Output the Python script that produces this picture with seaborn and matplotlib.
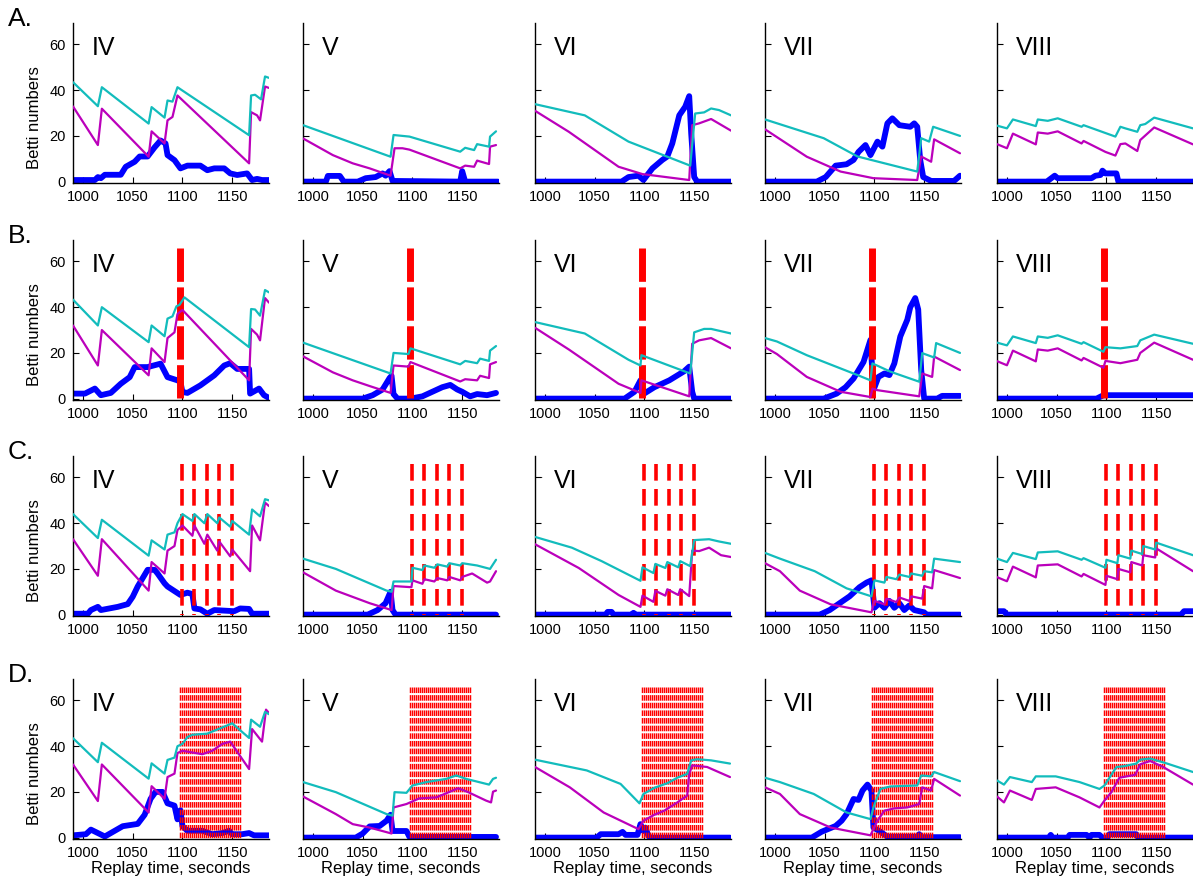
import numpy as np
import pandas as pd
import matplotlib
matplotlib.use("Agg")
import matplotlib.pyplot as plt
import seaborn as sns

sns.set_theme(style="white")
plt.rcParams['font.family'] = ['Liberation Sans', 'DejaVu Sans']
plt.rcParams['lines.scale_dashes'] = False
plt.rcParams['text.color'] = 'black'
plt.rcParams['axes.labelcolor'] = 'black'
plt.rcParams['xtick.color'] = 'black'
plt.rcParams['ytick.color'] = 'black'

# ---------------- data: (time, value) breakpoints ----------------
# Row A
A_IV_c = [(990,43.5),(1015,33),(1019,41.3),(1066,25.4),(1069,32.6),(1082,28),(1085,35.5),(1090,35),(1095,41.3),(1167,20.3),(1169,37.7),(1173,38),(1179,36),(1183,46),(1187,45.4)]
A_IV_m = [(990,32.9),(1015,16),(1019,31.9),(1066,10.9),(1069,22),(1082,16.7),(1085,26.8),(1090,28.3),(1095,37.7),(1167,8),(1169,30.4),(1175,29),(1178,26.8),(1183,41.6),(1187,41)]
A_IV_b = [(990,0.7),(1012,0.7),(1015,2),(1018,1.5),(1022,3),(1038,3),(1043,6.5),(1052,8.7),(1057,11),(1065,11),(1072,15),(1078,18),(1083,16.7),(1085,11.6),(1092,9.4),(1098,5.8),(1105,7),(1118,7),(1125,5),(1132,5.8),(1142,5.8),(1148,3.6),(1155,2.9),(1165,3.6),(1170,0.7),(1175,1.2),(1180,0.7),(1187,0.7)]

A_V_c = [(990,24.7),(1078,10.9),(1081,20.4),(1097,19.7),(1148,13.1),(1153,14.8),(1162,13.8),(1165,16.4),(1177,15.3),(1178,19.7),(1184,22)]
A_V_m = [(990,18.9),(1020,11.6),(1040,8),(1057,5.8),(1078,2.6),(1082,14.6),(1090,14.6),(1097,14),(1148,5.8),(1153,7),(1162,6.5),(1165,9.2),(1177,7.7),(1178,15.3),(1184,16)]
A_V_b = [(990,0),(1013,0),(1015,2.5),(1027,2.5),(1031,0),(1045,0),(1053,1.5),(1063,2),(1070,3.6),(1073,2.6),(1077,4.6),(1080,0.3),(1148,0),(1150,4.6),(1153,0),(1186,0)]

A_VI_c = [(990,33.9),(1040,29),(1084,17.5),(1146,7),(1151,29.8),(1160,30.3),(1167,32),(1175,31.3),(1187,29)]
A_VI_m = [(990,31),(1024,21.8),(1074,6.5),(1098,3.3),(1145,0.7),(1148,24.7),(1155,25.5),(1167,27.4),(1187,22.3)]
A_VI_b = [(990,0),(1077,0),(1084,2),(1094,2.6),(1099,0.7),(1108,5.8),(1118,9.5),(1123,11),(1128,16.7),(1135,29),(1141,32.8),(1145,37.4),(1147,21),(1150,2),(1153,0),(1187,0)]

A_VII_c = [(990,27.2),(1049,19),(1083,11),(1143,4.4),(1147,19),(1155,17.5),(1159,24),(1186,20)]
A_VII_m = [(990,22.9),(1032,10.9),(1066,4.4),(1099,1.5),(1143,0.7),(1147,11),(1157,8.7),(1160,18.5),(1186,12.4)]
A_VII_b = [(990,0),(1042,0),(1051,2),(1061,7),(1072,7.6),(1079,9.5),(1084,13),(1091,16),(1096,11.6),(1103,17.5),(1108,15.3),(1113,25.5),(1118,27.7),(1125,24.7),(1136,24),(1140,25.5),(1143,24),(1146,9.5),(1149,2),(1157,0.3),(1180,0.3),(1186,2.6)]

A_VIII_c = [(990,24.5),(1000,23.3),(1006,27.2),(1029,24.3),(1031,27.2),(1041,26.6),(1051,27.7),(1075,24),(1077,24.7),(1109,19.7),(1114,24),(1119,23.3),(1131,21.8),(1134,24.7),(1139,25.2),(1148,28),(1187,23.3)]
A_VIII_m = [(990,16.4),(1000,14.6),(1006,21),(1029,16.3),(1031,21.5),(1041,21),(1051,22),(1075,16.7),(1077,17.8),(1099,13),(1109,11.4),(1114,16.4),(1119,16.7),(1131,13.4),(1134,18.2),(1148,23.7),(1187,16.3)]
A_VIII_b = [(990,0),(1040,0),(1048,2.6),(1051,1.5),(1085,1.5),(1089,2.6),(1094,2.9),(1096,4.8),(1099,3.6),(1110,3.6),(1112,0),(1187,0)]

# Row B
B_IV_c = [(990,43.3),(1015,32),(1019,40),(1066,24.7),(1069,32),(1082,27.3),(1085,35),(1090,36),(1094,40.4),(1097,41),(1102,44.3),(1167,22.5),(1169,39.2),(1173,39),(1178,36.3),(1183,47.5),(1187,46.5)]
B_IV_m = [(990,32),(1015,14.5),(1019,30),(1066,10.2),(1069,22),(1082,16),(1085,26.5),(1092,29),(1095,37),(1100,38.8),(1167,8),(1169,30.5),(1175,28),(1178,25.5),(1183,44),(1187,42)]
B_IV_b = [(990,2.2),(1002,2.2),(1012,4.4),(1018,1.5),(1028,2.5),(1038,6.5),(1047,9.4),(1052,13.8),(1065,13.8),(1078,15.3),(1085,9.4),(1095,8),(1098,7.3),(1100,2.9),(1105,2.5),(1118,5.8),(1132,10.2),(1142,14.5),(1148,15.5),(1155,13),(1167,13),(1168,2.2),(1177,4.4),(1182,1.5),(1187,0.3)]

B_V_c = [(990,24.5),(1078,11),(1081,20),(1096,19.5),(1098,22),(1148,15),(1153,16.5),(1165,15.5),(1168,17.5),(1177,16.5),(1178,21),(1184,23)]
B_V_m = [(990,18.5),(1020,11.5),(1040,8),(1057,5.5),(1078,2.5),(1081,14.5),(1096,14),(1098,16),(1148,7.5),(1153,8.5),(1165,8),(1168,10),(1177,9),(1178,15),(1184,16)]
B_V_b = [(990,0),(1050,0),(1060,1.5),(1070,4),(1077,9),(1079,10),(1081,2),(1085,0),(1098,0),(1110,1),(1120,3),(1130,5),(1138,6),(1145,4),(1150,3),(1158,1),(1165,2),(1175,1.5),(1184,2.5)]

B_VI_c = [(990,33.5),(1040,28.5),(1084,17),(1096,14.5),(1097,19),(1146,11),(1150,29),(1160,30.5),(1167,30.5),(1187,28.5)]
B_VI_m = [(990,31),(1024,21.5),(1074,6.5),(1096,2.5),(1097,8),(1145,1),(1148,24),(1155,25.5),(1167,26.5),(1187,22)]
B_VI_b = [(990,0),(1080,0),(1090,3),(1096,8),(1099,2),(1110,5),(1125,8),(1140,12),(1145,14),(1148,3),(1150,0),(1187,0)]

B_VII_c = [(990,26.5),(1002,25),(1032,19),(1083,10.3),(1096,8),(1098,15.4),(1116,11.8),(1145,7.4),(1148,19.9),(1160,18),(1162,24.3),(1186,20)]
B_VII_m = [(990,22.5),(1002,19.5),(1032,9.5),(1066,3),(1096,0.7),(1098,4.4),(1103,3.7),(1145,1),(1148,11),(1158,9.5),(1160,18.4),(1186,12.5)]
B_VII_b = [(990,0),(1049,0),(1062,2.2),(1071,5),(1079,8.8),(1089,16),(1096,25.7),(1099,3.7),(1104,9.5),(1110,11),(1115,10.3),(1120,15.4),(1126,27.2),(1133,34.5),(1136,40),(1141,44),(1144,39),(1147,12.5),(1150,0),(1163,0),(1168,1.2),(1186,1.2)]

B_VIII_c = [(990,24.5),(1000,23.3),(1006,27.2),(1029,24.3),(1031,27.2),(1041,26.6),(1051,27.7),(1075,24),(1077,24.7),(1097,20.5),(1099,22.5),(1114,22),(1131,23),(1134,25.5),(1148,28),(1187,24)]
B_VIII_m = [(990,16.4),(1000,14.6),(1006,21),(1029,16.3),(1031,21.5),(1041,21),(1051,22),(1075,16.7),(1077,17.8),(1097,13.5),(1099,16.5),(1114,15.5),(1131,17),(1134,20),(1148,24.5),(1187,17)]
B_VIII_b = [(990,0),(1090,0),(1097,1.5),(1187,1.5)]

# Row C
C_IV_c = [(990,44),(1015,33.5),(1019,41.5),(1066,25.8),(1069,32.5),(1082,28.5),(1085,35),(1092,36),(1095,40),(1100,44),(1110,41),(1112,44),(1122,40),(1125,44),(1135,40),(1137,42.5),(1148,38.5),(1150,41),(1167,35),(1170,46),(1178,43),(1183,50.5),(1187,50)]
C_IV_m = [(990,33),(1015,17),(1019,33),(1066,10.5),(1069,23),(1082,18),(1085,28),(1092,30),(1095,37),(1100,39),(1110,34.5),(1112,39),(1122,31),(1125,35),(1135,28),(1137,32),(1148,25.5),(1150,28.5),(1168,19),(1170,39),(1178,32.5),(1183,49),(1187,47.5)]
C_IV_b = [(990,0.4),(1005,0.4),(1008,2),(1015,3.4),(1018,2),(1035,3.4),(1045,4.6),(1050,7.8),(1055,12.3),(1065,19.6),(1072,19.6),(1075,18),(1082,13.7),(1085,12.3),(1098,8.6),(1105,9.6),(1110,9),(1112,2.7),(1118,2.3),(1125,0.4),(1132,2),(1152,1.5),(1158,2.7),(1167,2.5),(1170,0.4),(1187,0.4)]

C_V_c = [(990,24.5),(1023,20),(1074,10.5),(1079,10),(1081,14.5),(1099,14.5),(1100,20.5),(1110,19.5),(1112,21.5),(1122,20.5),(1125,22),(1135,21),(1137,22.5),(1148,21.5),(1150,22.5),(1165,21.5),(1178,20),(1184,24)]
C_V_m = [(990,18.5),(1023,10.5),(1057,5),(1079,2),(1081,12.5),(1099,12),(1100,15),(1110,13.5),(1112,15.5),(1122,14.5),(1125,16),(1135,15),(1137,16.5),(1148,15),(1150,16.5),(1160,18),(1175,14),(1178,14.5),(1184,19)]
C_V_b = [(990,0),(1055,0),(1065,2),(1073,5),(1078,10),(1080,2),(1083,0),(1184,0)]

C_VI_c = [(990,34),(1027,29.3),(1057,23.4),(1096,14.8),(1098,20.7),(1109,18.2),(1111,22.2),(1121,20.4),(1123,23),(1134,20.7),(1136,23.4),(1146,21.2),(1150,32.6),(1165,33),(1175,32),(1187,31)]
C_VI_m = [(990,30.8),(1034,20.4),(1074,8.6),(1096,3.4),(1098,8.3),(1109,5.6),(1111,10.4),(1121,8.3),(1123,11.1),(1134,8.6),(1136,11.1),(1145,8.1),(1148,28),(1155,27.8),(1165,29.3),(1177,26),(1187,25.2)]
C_VI_b = [(990,0),(1061,0),(1063,1.2),(1067,1.2),(1069,0),(1087,0),(1089,0.8),(1091,0),(1187,0)]

C_VII_c = [(990,27),(1005,24.5),(1040,19),(1072,11.5),(1097,8),(1100,15),(1110,14),(1112,16.5),(1122,15.5),(1125,17.5),(1135,16.5),(1137,18),(1148,17),(1150,19),(1158,18.5),(1160,24.5),(1186,23)]
C_VII_m = [(990,22.5),(1005,19),(1025,10.5),(1056,4.5),(1097,1),(1100,6),(1110,4.5),(1112,7),(1122,5.5),(1125,7.5),(1135,6),(1137,8),(1148,7),(1150,12.5),(1158,11.5),(1160,19.5),(1186,16)]
C_VII_b = [(990,0),(1045,0),(1055,2),(1065,5),(1075,8),(1085,12),(1092,14),(1097,15),(1100,3),(1105,5),(1110,3),(1115,6),(1120,3),(1125,5),(1130,2),(1135,4),(1140,2),(1150,1),(1152,0),(1186,0)]

C_VIII_c = [(990,24.5),(1000,23),(1006,27),(1029,24.3),(1031,27.2),(1051,27.7),(1075,24),(1077,24.7),(1099,20.5),(1100,24),(1111,22.5),(1112,26),(1124,24.5),(1125,28),(1136,26.5),(1137,30),(1149,28.5),(1150,31.5),(1187,26)]
C_VIII_m = [(990,16.4),(1000,14.6),(1006,21),(1029,16.3),(1031,21.5),(1051,22),(1075,16.7),(1077,17.8),(1099,13),(1100,17),(1111,15.5),(1112,20),(1124,18.5),(1125,23),(1136,21.5),(1137,26),(1149,25),(1150,29),(1187,19)]
C_VIII_b = [(990,1.5),(997,1.5),(1000,0),(1175,0),(1178,1.5),(1187,1.5)]

# Row D
D_IV_c = [(990,43.5),(1015,33),(1019,41.5),(1066,25.8),(1069,32.5),(1082,28),(1085,34),(1092,35),(1095,40),(1100,41),(1105,44),(1110,45),(1125,45.5),(1150,50),(1167,43.6),(1169,51.6),(1178,48.5),(1183,55),(1187,54)]
D_IV_m = [(990,32),(1015,16),(1019,32),(1066,11),(1069,22.5),(1082,17),(1085,26.5),(1092,28),(1095,37),(1100,38),(1120,36.5),(1130,38),(1140,41),(1148,42),(1167,30),(1170,47.5),(1180,42),(1184,56),(1187,54.5)]
D_IV_b = [(990,1),(1003,1.5),(1008,3.5),(1015,2),(1022,0.5),(1030,2.5),(1040,5),(1055,6),(1062,10),(1068,17),(1073,20),(1080,20),(1085,15),(1092,14),(1095,8),(1098,12),(1100,5),(1105,3),(1120,3),(1130,1.5),(1140,2),(1147,3),(1150,1.5),(1160,1.5),(1167,2),(1172,1),(1187,1)]

D_V_c = [(990,24.3),(1023,19.9),(1074,10.3),(1080,9.6),(1082,19.9),(1094,19.6),(1100,22.8),(1114,24.3),(1134,25.7),(1144,27.2),(1154,25.7),(1177,23.2),(1181,25.7),(1184,26.2)]
D_V_m = [(990,18),(1023,10.3),(1040,5.9),(1057,4.4),(1079,1.8),(1081,13.2),(1094,14.7),(1107,17.2),(1124,17.6),(1146,21.6),(1156,19.9),(1174,16.2),(1179,15.4),(1181,20.1),(1184,20.6)]
D_V_b = [(990,0),(1043,0),(1050,1.8),(1057,4.9),(1067,5.1),(1074,7.4),(1078,10),(1080,2.9),(1094,2.9),(1097,0.3),(1184,0.3)]

D_VI_c = [(990,34.1),(1042,29.4),(1076,23.5),(1095,15),(1099,19.1),(1110,21.8),(1123,23.8),(1133,26.2),(1143,27.9),(1147,33.8),(1153,34.3),(1167,33.8),(1186,32.4)]
D_VI_m = [(990,30.9),(1025,22),(1059,11),(1094,3.7),(1099,7.4),(1110,10),(1120,11.8),(1133,15.4),(1143,18.4),(1145,27.9),(1148,31.6),(1163,30.9),(1186,26.5)]
D_VI_b = [(990,0),(1052,0),(1056,1.5),(1074,1.5),(1078,2.5),(1081,1.2),(1093,1.2),(1096,5.9),(1099,2.9),(1101,4.4),(1104,0.7),(1106,0),(1186,0)]

D_VII_c = [(990,26.2),(1005,24.3),(1039,19.1),(1072,11),(1096,8.1),(1099,13.2),(1106,21.3),(1116,22.4),(1143,22.8),(1147,27.2),(1157,26.8),(1160,28.7),(1186,24.7)]
D_VII_m = [(990,22),(1005,19.1),(1025,10.3),(1056,4.4),(1096,1),(1103,7.4),(1110,11.8),(1120,12.8),(1133,13.2),(1145,14.7),(1148,22),(1157,20.6),(1160,25.7),(1186,18.4)]
D_VII_b = [(990,0),(1037,0),(1047,2.6),(1061,5.1),(1067,7.4),(1072,10.3),(1079,16.9),(1084,16.5),(1088,20.6),(1093,23.2),(1097,20.6),(1099,4.4),(1106,2.6),(1113,0.4),(1143,0.4),(1145,1.5),(1147,0.2),(1186,0.2)]

D_VIII_c = [(990,25),(997,23.2),(1003,26.5),(1025,24.3),(1029,26.8),(1049,26.8),(1073,24.3),(1093,21.3),(1098,22.8),(1110,30.9),(1117,31.2),(1130,32.4),(1134,34.1),(1144,34.6),(1161,32.4),(1187,28.7)]
D_VIII_m = [(990,18),(997,15.4),(1003,20.6),(1025,16.5),(1029,21.3),(1049,22),(1073,17.6),(1093,13.2),(1098,16.2),(1105,19.9),(1113,26.2),(1129,27.5),(1134,32.1),(1144,33.5),(1157,30.9),(1187,23.2)]
D_VIII_b = [(990,0),(1042,0),(1044,1.2),(1046,0),(1061,0),(1063,1.2),(1080,1.2),(1083,0),(1085,1.2),(1093,1.2),(1096,0),(1101,0),(1103,1.5),(1130,1.5),(1132,0),(1187,0)]

# stimulation times (red dashed lines)
stim_B = [1097.5]
stim_C = [1099.5, 1112, 1124.5, 1137, 1149.5]
stim_D = [1097.5, 1099.5, 1101.5, 1103.5, 1105.5, 1107.5, 1109.5, 1111.5, 1113.5, 1115.5,
          1117.5, 1119.5, 1121.5, 1123.5, 1125.5, 1127.5, 1129.5, 1131.5, 1133.5, 1135.5,
          1137.5, 1139.5, 1141.5, 1143.5, 1145.5, 1147.5, 1149.5, 1151.5, 1153.5, 1155.5, 1157.5]
stim_top = 66

rows = ["A", "B", "C", "D"]
cols = ["IV", "V", "VI", "VII", "VIII"]
x_ticks = [1000, 1050, 1100, 1150]
y_ticks = [0, 20, 40, 60]

series = {}
for r in rows:
    for c in cols:
        series[(r, c)] = (globals()[f"{r}_{c}_c"], globals()[f"{r}_{c}_m"], globals()[f"{r}_{c}_b"])

stims = {"A": [], "B": stim_B, "C": stim_C, "D": stim_D}
stim_style = {
    "B": dict(lw=5.0, ls=(0, (24, 4))),
    "C": dict(lw=2.6, ls=(0, (12, 6))),
    "D": dict(lw=1.05, ls=(0, (4, 1.5))),
}

CYAN = "#12bcbc"
MAG = "#bb00bb"
BLUE = "#0000ff"
RED = "#ff0000"

W, H = 1193, 890
fig = plt.figure(figsize=(W / 100, H / 100), dpi=100)

col_left = [73, 303, 535, 765, 997]
row_top = [23, 240, 456, 679]
ax_w, ax_h = 196, 160

for ri, r in enumerate(rows):
    fig.text(8 / W, 1 - (row_top[ri] + 3) / H, r + ".", fontsize=19, va="baseline", ha="left")
    for ci, c in enumerate(cols):
        ax = fig.add_axes([col_left[ci] / W, 1 - (row_top[ri] + ax_h) / H, ax_w / W, ax_h / H])
        cy, mg, bl = series[(r, c)]
        dfb = pd.DataFrame(bl, columns=["t", "v"])
        dfc = pd.DataFrame(cy, columns=["t", "v"])
        dfm = pd.DataFrame(mg, columns=["t", "v"])
        sns.lineplot(data=dfb, x="t", y="v", ax=ax, color=BLUE, linewidth=4.2,
                     estimator=None, sort=False, zorder=2, solid_capstyle="round")
        if stims[r]:
            st = stim_style[r]
            for xs in stims[r]:
                ax.plot([xs, xs], [stim_top, 0], color=RED, linewidth=st["lw"],
                        linestyle=st["ls"], zorder=2.5, dash_capstyle="butt")
        sns.lineplot(data=dfm, x="t", y="v", ax=ax, color=MAG, linewidth=1.6,
                     estimator=None, sort=False, zorder=3)
        sns.lineplot(data=dfc, x="t", y="v", ax=ax, color=CYAN, linewidth=1.6,
                     estimator=None, sort=False, zorder=3)
        ax.set_xlim(990, 1187)
        ax.set_ylim(-0.6, 69.4)
        ax.set_xticks(x_ticks)
        ax.set_yticks(y_ticks)
        ax.tick_params(direction="in", length=4, width=0.8, labelsize=10.5, pad=5,
                       left=True, bottom=True, colors="black")
        for s in ["top", "right"]:
            ax.spines[s].set_visible(False)
        for s in ["left", "bottom"]:
            ax.spines[s].set_color("black")
            ax.spines[s].set_linewidth(1.0)
        if ci == 0:
            ax.set_ylabel("Betti numbers", fontsize=12)
            ax.yaxis.set_label_coords(-0.16, 0.41)
        else:
            ax.set_ylabel("")
            ax.set_yticklabels([])
        if ri == len(rows) - 1:
            ax.set_xlabel("Replay time, seconds", fontsize=12)
            ax.xaxis.set_label_coords(0.5, -0.135)
        else:
            ax.set_xlabel("")
        if r in ("C", "D"):
            ax.text(993.5, y_ticks[-1], "-", fontsize=8, ha="left", va="center")
        ax.text(1009, 58.5, c, fontsize=18, ha="left", va="center")

fig.savefig("out.png", dpi=100)
